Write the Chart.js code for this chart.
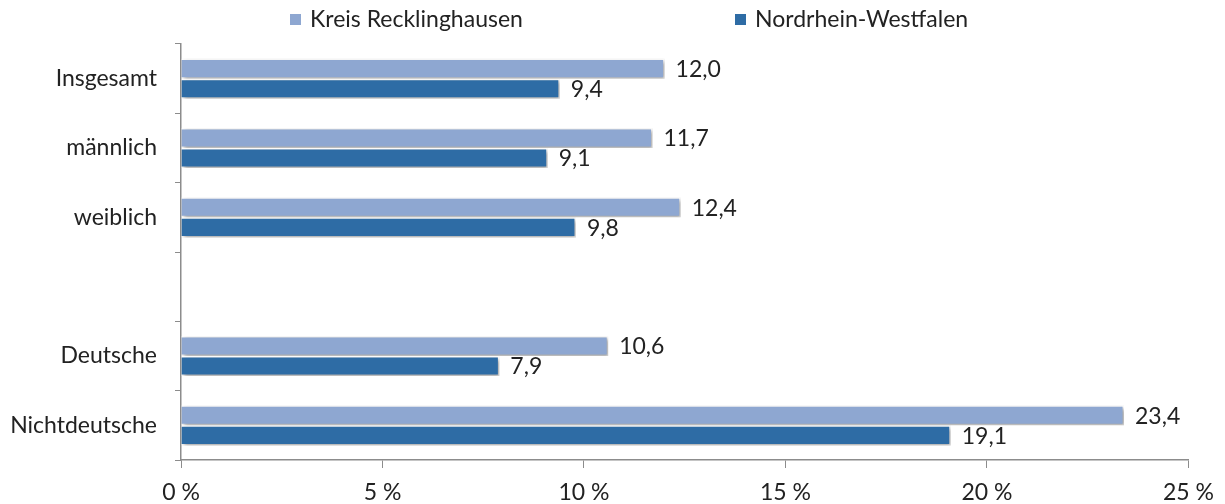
<!DOCTYPE html>
<html>
<head>
<meta charset="utf-8">
<script src="https://cdn.jsdelivr.net/npm/chart.js@4"></script>
<style>
  html, body { margin: 0; padding: 0; background: #fff; }
  #wrap { width: 1225px; height: 504px; }
</style>
</head>
<body>
<div id="wrap"><canvas id="chart"></canvas></div>
<script>
// data
const categories = ['Insgesamt', 'männlich', 'weiblich', '', 'Deutsche', 'Nichtdeutsche'];
const kreisValues = [12.0, 11.7, 12.4, null, 10.6, 23.4];
const nrwValues = [9.4, 9.1, 9.8, null, 7.9, 19.1];
const seriesNames = ['Kreis Recklinghausen', 'Nordrhein-Westfalen'];
const xTickValues = [0, 5, 10, 15, 20, 25];

const lightBlue = '#8EA7D1';
const darkBlue = '#2E6CA5';
const axisGrey = '#8c8c8c';
const fontFamily = 'Lato, "Open Sans", sans-serif';
const fontSize = 23;

const fmt = v => v.toFixed(1).replace('.', ',');

// soft shadow under the bars + value labels next to each bar
const barExtras = {
  id: 'barExtras',
  beforeDatasetsDraw(chart) {
    const ctx = chart.ctx;
    ctx.save();
    ctx.shadowColor = 'rgba(0,0,0,0.35)';
    ctx.shadowBlur = 4;
    ctx.shadowOffsetX = 2;
    ctx.shadowOffsetY = 2;
  },
  afterDatasetsDraw(chart) {
    const ctx = chart.ctx;
    ctx.restore();
    ctx.save();
    ctx.font = fontSize + 'px ' + fontFamily;
    ctx.fillStyle = '#222';
    ctx.textBaseline = 'middle';
    chart.data.datasets.forEach((ds, i) => {
      const meta = chart.getDatasetMeta(i);
      meta.data.forEach((bar, j) => {
        const v = ds.data[j];
        if (v === null) return;
        ctx.fillText(fmt(v), bar.x + 11, bar.y + 1);
      });
    });
    ctx.restore();
  }
};

// legend drawn by hand so the wide gap between the two entries can be kept
const topLegend = {
  id: 'topLegend',
  afterDraw(chart) {
    const ctx = chart.ctx;
    const items = [
      { x: 290, color: lightBlue, text: seriesNames[0] },
      { x: 735, color: darkBlue, text: seriesNames[1] }
    ];
    ctx.save();
    ctx.font = fontSize + 'px ' + fontFamily;
    ctx.textBaseline = 'middle';
    items.forEach(it => {
      ctx.fillStyle = it.color;
      ctx.fillRect(it.x, 14, 11, 11);
      ctx.fillStyle = '#222';
      ctx.fillText(it.text, it.x + 20, 20);
    });
    ctx.restore();
  }
};

new Chart(document.getElementById('chart'), {
  type: 'bar',
  data: {
    labels: categories,
    datasets: [{
      label: seriesNames[0],
      data: kreisValues,
      backgroundColor: lightBlue,
      borderColor: '#ffffff',
      borderWidth: 1.5
    }, {
      label: seriesNames[1],
      data: nrwValues,
      backgroundColor: darkBlue,
      borderColor: '#ffffff',
      borderWidth: 1.5
    }]
  },
  options: {
    indexAxis: 'y',
    responsive: true,
    maintainAspectRatio: false,
    animation: false,
    datasets: {
      bar: { categoryPercentage: 0.58, barPercentage: 1.0 }
    },
    layout: { padding: { top: 44, right: 36, left: 0, bottom: 0 } },
    scales: {
      x: {
        min: 0,
        max: 25,
        afterBuildTicks(scale) {
          scale.ticks = xTickValues.map(v => ({ value: v }));
        },
        afterFit(scale) { scale.height = 44; },
        grid: {
          drawOnChartArea: false,
          tickLength: 8,
          color: axisGrey
        },
        border: { color: axisGrey, width: 1.5 },
        ticks: {
          padding: 11,
          color: '#222',
          font: { size: fontSize, family: fontFamily }
        ,
          callback: v => v + ' %'
        }
      },
      y: {
        afterFit(scale) { scale.width = 181; },
        grid: {
          offset: true,
          drawOnChartArea: false,
          tickLength: 6,
          color: axisGrey
        },
        border: { color: axisGrey, width: 1.5 },
        ticks: {
          padding: 18,
          color: '#222',
          font: { size: fontSize, family: fontFamily }
        }
      }
    },
    plugins: {
      legend: { display: false },
      tooltip: { enabled: false }
    }
  },
  plugins: [barExtras, topLegend]
});
</script>
</body>
</html>
